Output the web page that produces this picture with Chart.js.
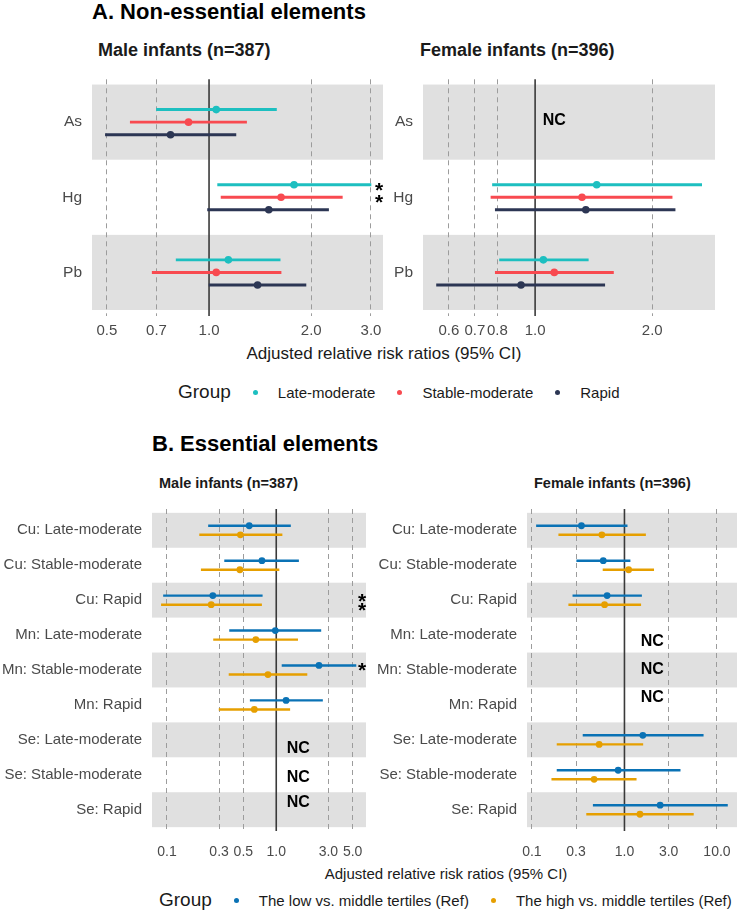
<!DOCTYPE html>
<html>
<head>
<meta charset="utf-8">
<script src="https://cdn.jsdelivr.net/npm/chart.js@4.4.1/dist/chart.umd.min.js"></script>
<style>
  body { margin: 0; background: #fff; font-family: "Liberation Sans", Arial, sans-serif; }
  #wrap { position: relative; width: 744px; height: 911px; overflow: hidden; }
  canvas { position: absolute; }
  .t { position: absolute; white-space: nowrap; color: #1a1a1a; }
  .title { font-weight: bold; font-size: 22px; line-height: 22px; color: #000; }
  .sub { font-weight: bold; color: #1a1a1a; }
  .legend { position: absolute; display: flex; align-items: center; white-space: nowrap; color: #1a1a1a; }
  .legend .g { font-size: 19px; margin-right: 22px; }
  .legend .dot { width: 5px; height: 5px; border-radius: 50%; margin-right: 20px; }
  .legend .lab { font-size: 15px; margin-right: 22px; }
</style>
</head>
<body>
<div id="wrap">
  <div class="t title" style="left:92px;top:1px">A. Non-essential elements</div>
  <div class="t sub" style="left:98px;top:40px;font-size:18px">Male infants (n=387)</div>
  <div class="t sub" style="left:420px;top:40px;font-size:18px">Female infants (n=396)</div>
  <div class="t" style="left:384px;top:344px;font-size:17px;transform:translateX(-50%)">Adjusted relative risk ratios (95% CI)</div>
  <div class="legend" id="legA" style="left:178px;top:381px;height:22px"></div>

  <div class="t title" style="left:152px;top:433px">B. Essential elements</div>
  <div class="t sub" style="left:159px;top:475px;font-size:14.5px">Male infants (n=387)</div>
  <div class="t sub" style="left:534px;top:475px;font-size:14.5px">Female infants (n=396)</div>
  <div class="t" style="left:446px;top:865px;font-size:15px;transform:translateX(-50%)">Adjusted relative risk ratios (95% CI)</div>
  <div class="legend" id="legB" style="left:159px;top:889px;height:22px"></div>
</div>
<script>
// ---------- A. Non-essential elements ----------
const elementsA = ['As', 'Hg', 'Pb'];
const groupsA = ['Late-moderate', 'Stable-moderate', 'Rapid'];
const ticksAMale = [0.5, 0.7, 1.0, 2.0, 3.0];
const tickLabelsAMale = ['0.5', '0.7', '1.0', '2.0', '3.0'];
const ticksAFemale = [0.6, 0.7, 0.8, 1.0, 2.0];
const tickLabelsAFemale = ['0.6', '0.7', '0.8', '1.0', '2.0'];

// male infants
const maleLateEst = [1.05, 1.78, 1.14];
const maleLateLo = [0.70, 1.06, 0.80];
const maleLateHi = [1.58, 3.00, 1.62];
const maleStableEst = [0.87, 1.63, 1.05];
const maleStableLo = [0.586, 1.085, 0.68];
const maleStableHi = [1.29, 2.47, 1.63];
const maleRapidEst = [0.77, 1.50, 1.39];
const maleRapidLo = [0.495, 0.99, 1.00];
const maleRapidHi = [1.20, 2.25, 1.93];

// female infants (As not computed)
const femaleLateEst = [null, 1.44, 1.05];
const femaleLateLo = [null, 0.777, 0.81];
const femaleLateHi = [null, 2.68, 1.37];
const femaleStableEst = [null, 1.32, 1.12];
const femaleStableLo = [null, 0.77, 0.79];
const femaleStableHi = [null, 2.25, 1.59];
const femaleRapidEst = [null, 1.35, 0.92];
const femaleRapidLo = [null, 0.79, 0.558];
const femaleRapidHi = [null, 2.29, 1.51];

// ---------- B. Essential elements ----------
const rowsB = ['Cu: Late-moderate', 'Cu: Stable-moderate', 'Cu: Rapid',
               'Mn: Late-moderate', 'Mn: Stable-moderate', 'Mn: Rapid',
               'Se: Late-moderate', 'Se: Stable-moderate', 'Se: Rapid'];
const groupsB = ['The low vs. middle tertiles (Ref)', 'The high vs. middle tertiles (Ref)'];
const ticksBMale = [0.1, 0.3, 0.5, 1.0, 3.0, 5.0];
const tickLabelsBMale = ['0.1', '0.3', '0.5', '1.0', '3.0', '5.0'];
const ticksBFemale = [0.1, 0.3, 1.0, 3.0, 10.0];
const tickLabelsBFemale = ['0.1', '0.3', '1.0', '3.0', '10.0'];

const maleLowEst = [0.566, 0.74, 0.263, 0.98, 2.46, 1.23, null, null, null];
const maleLowLo = [0.24, 0.337, 0.093, 0.374, 1.13, 0.578, null, null, null];
const maleLowHi = [1.35, 1.60, 0.745, 2.56, 5.36, 2.65, null, null, null];
const maleHighEst = [0.47, 0.465, 0.254, 0.65, 0.84, 0.63, null, null, null];
const maleHighLo = [0.199, 0.206, 0.089, 0.267, 0.37, 0.30, null, null, null];
const maleHighHi = [1.13, 1.06, 0.734, 1.57, 1.91, 1.33, null, null, null];

const femaleLowEst = [0.343, 0.59, 0.65, null, null, null, 1.58, 0.855, 2.43];
const femaleLowLo = [0.112, 0.305, 0.277, null, null, null, 0.357, 0.187, 0.46];
const femaleLowHi = [1.07, 1.15, 1.53, null, null, null, 7.1, 4.0, 12.97];
const femaleHighEst = [0.57, 1.11, 0.61, null, null, null, 0.533, 0.47, 1.47];
const femaleHighLo = [0.195, 0.587, 0.25, null, null, null, 0.187, 0.164, 0.39];
const femaleHighHi = [1.69, 2.07, 1.50, null, null, null, 1.58, 1.34, 5.56];

const colorsA = ['#1dbfc0', '#f84a50', '#2c3654'];
const colorsB = ['#0a72b5', '#e69f00'];

Chart.defaults.font.family = '"Liberation Sans", Arial, sans-serif';

function drawPanel(opt) {
  const [cx0, cy0, cx1, cy1] = opt.canvas;
  const [px0, py0, px1, py1] = opt.plot;
  const w = cx1 - cx0, h = cy1 - cy0;
  const canvas = document.createElement('canvas');
  canvas.width = w; canvas.height = h;
  canvas.style.left = cx0 + 'px'; canvas.style.top = cy0 + 'px';
  canvas.style.width = w + 'px'; canvas.style.height = h + 'px';
  document.getElementById('wrap').appendChild(canvas);

  const n = opt.rows.length;
  const datasets = [];
  opt.series.forEach((s, k) => {
    const off = opt.offsets[k];
    const bars = [], pts = [];
    s.est.forEach((e, i) => {
      if (e == null) return;
      bars.push({ x: [s.lo[i], s.hi[i]], y: i + off });
      pts.push({ x: e, y: i + off });
    });
    datasets.push({ type: 'bar', data: bars, backgroundColor: s.color, borderWidth: 0,
      barThickness: opt.lineW, maxBarThickness: opt.lineW, grouped: false, order: 2 });
    datasets.push({ type: 'scatter', data: pts, backgroundColor: s.color, borderWidth: 0,
      pointRadius: opt.ptR, pointHoverRadius: opt.ptR, indexAxis: 'x', order: 1 });
  });

  const deco = {
    id: 'deco',
    beforeDraw(chart) {
      const { ctx, chartArea: a, scales: { y } } = chart;
      ctx.save();
      ctx.fillStyle = '#e0e0e0';
      for (let i = 0; i < n; i += 2) {
        const t = y.getPixelForValue(i - 0.5), b = y.getPixelForValue(i + 0.5);
        ctx.fillRect(a.left, Math.min(t, b), a.right - a.left, Math.abs(b - t));
      }
      ctx.restore();
    },
    beforeDatasetsDraw(chart) {
      const { ctx, chartArea: a, scales: { x } } = chart;
      const px = x.getPixelForValue(1);
      ctx.save();
      ctx.strokeStyle = '#3a3a3a';
      ctx.lineWidth = 1.6;
      ctx.beginPath();
      ctx.moveTo(px, a.top); ctx.lineTo(px, a.bottom);
      ctx.stroke();
      ctx.restore();
    },
    afterDatasetsDraw(chart) {
      const { ctx, chartArea: a, scales: { x, y } } = chart;
      ctx.save();
      ctx.fillStyle = '#000';
      ctx.textAlign = 'center';
      ctx.font = 'bold 21px "Liberation Sans", Arial';
      ctx.textBaseline = 'alphabetic';
      (opt.stars || []).forEach(([row, k]) => {
        const py = y.getPixelForValue(row + opt.offsets[k]);
        ctx.fillText('*', a.right - 4, py + 12);
      });
      ctx.font = 'bold 16px "Liberation Sans", Arial';
      ctx.textBaseline = 'middle';
      (opt.nc || []).forEach(([row, xv, dy]) => {
        ctx.fillText('NC', x.getPixelForValue(xv), y.getPixelForValue(row + dy));
      });
      ctx.restore();
    }
  };

  new Chart(canvas, {
    type: 'bar',
    data: { datasets },
    options: {
      indexAxis: 'y',
      responsive: false,
      animation: false,
      devicePixelRatio: 1,
      layout: { padding: { top: py0 - cy0, right: cx1 - px1, left: 0, bottom: 0 } },
      plugins: { legend: { display: false }, tooltip: { enabled: false } },
      scales: {
        x: {
          type: 'logarithmic',
          min: opt.xMin, max: opt.xMax,
          afterBuildTicks: (sc) => { sc.ticks = opt.ticks.map(v => ({ value: v })); },
          afterFit: (sc) => { sc.height = cy1 - py1; },
          ticks: {
            autoSkip: false, maxRotation: 0, minRotation: 0,
            padding: opt.tickPad, color: '#4a4a4a', font: { size: opt.tickSize },
            callback: (v, i) => opt.tickLabels[i]
          },
          grid: {
            drawTicks: false,
            color: (c) => (c.tick && c.tick.value === 1 ? 'rgba(0,0,0,0)' : '#9c9c9c'),
            lineWidth: 1
          },
          border: { display: false, dash: [5, 4] }
        },
        y: {
          type: 'linear',
          reverse: true,
          offset: false,
          min: opt.yMin, max: n - 1 + opt.yPad,
          afterBuildTicks: (sc) => { sc.ticks = opt.rows.map((_, i) => ({ value: i })); },
          afterFit: (sc) => { sc.width = px0 - cx0; },
          ticks: {
            autoSkip: false, padding: 10, color: '#4a4a4a', font: { size: opt.labelSize },
            callback: (v, i) => opt.rows[i]
          },
          grid: { display: false, drawTicks: false, offset: false },
          border: { display: false }
        }
      }
    },
    plugins: [deco]
  });
}

// Panel A, male
drawPanel({
  canvas: [0, 60, 392, 345], plot: [92, 70, 383, 316],
  rows: elementsA, offsets: [-0.167, 0, 0.167], yMin: -0.57, yPad: 0.58,
  xMin: 0.452, xMax: 3.255, ticks: ticksAMale, tickLabels: tickLabelsAMale,
  tickSize: 15, tickPad: 6, labelSize: 15.5, lineW: 2.3, ptR: 3.8,
  series: [
    { est: maleLateEst, lo: maleLateLo, hi: maleLateHi, color: colorsA[0] },
    { est: maleStableEst, lo: maleStableLo, hi: maleStableHi, color: colorsA[1] },
    { est: maleRapidEst, lo: maleRapidLo, hi: maleRapidHi, color: colorsA[2] }
  ],
  stars: [[1, 0], [1, 1]]
});

// Panel A, female
drawPanel({
  canvas: [392, 60, 728, 345], plot: [423, 70, 715, 316],
  rows: elementsA, offsets: [-0.167, 0, 0.167], yMin: -0.57, yPad: 0.58,
  xMin: 0.515, xMax: 2.9, ticks: ticksAFemale, tickLabels: tickLabelsAFemale,
  tickSize: 15, tickPad: 6, labelSize: 15.5, lineW: 2.3, ptR: 3.8,
  series: [
    { est: femaleLateEst, lo: femaleLateLo, hi: femaleLateHi, color: colorsA[0] },
    { est: femaleStableEst, lo: femaleStableLo, hi: femaleStableHi, color: colorsA[1] },
    { est: femaleRapidEst, lo: femaleRapidLo, hi: femaleRapidHi, color: colorsA[2] }
  ],
  nc: [[0, 1.12, -0.02]]
});

// Panel B, male
drawPanel({
  canvas: [0, 490, 376, 870], plot: [152, 497, 366, 831],
  rows: rowsB, offsets: [-0.13, 0.13], yMin: -0.61, yPad: 0.61,
  xMin: 0.073, xMax: 6.62, ticks: ticksBMale, tickLabels: tickLabelsBMale,
  tickSize: 14, tickPad: 13, labelSize: 15, lineW: 1.8, ptR: 3.4,
  series: [
    { est: maleLowEst, lo: maleLowLo, hi: maleLowHi, color: colorsB[0] },
    { est: maleHighEst, lo: maleHighLo, hi: maleHighHi, color: colorsB[1] }
  ],
  stars: [[2, 0], [2, 1], [4, 0]],
  nc: [[6, 1.59, 0.24], [7, 1.59, 0.07], [8, 1.59, -0.19]]
});

// Panel B, female
drawPanel({
  canvas: [360, 490, 744, 870], plot: [527, 497, 740, 831],
  rows: rowsB, offsets: [-0.13, 0.13], yMin: -0.61, yPad: 0.61,
  xMin: 0.0885, xMax: 16.44, ticks: ticksBFemale, tickLabels: tickLabelsBFemale,
  tickSize: 14, tickPad: 13, labelSize: 15, lineW: 1.8, ptR: 3.4,
  series: [
    { est: femaleLowEst, lo: femaleLowLo, hi: femaleLowHi, color: colorsB[0] },
    { est: femaleHighEst, lo: femaleHighLo, hi: femaleHighHi, color: colorsB[1] }
  ],
  nc: [[3, 2.0, 0.2], [4, 2.0, 0], [5, 2.0, -0.22]]
});

// legends
function fillLegend(id, names, colors) {
  const el = document.getElementById(id);
  let html = '<span class="g">Group</span>';
  names.forEach((nm, i) => {
    html += '<span class="dot" style="background:' + colors[i] + '"></span><span class="lab">' + nm + '</span>';
  });
  el.innerHTML = html;
}
fillLegend('legA', groupsA, colorsA);
fillLegend('legB', groupsB, colorsB);
</script>
</body>
</html>
